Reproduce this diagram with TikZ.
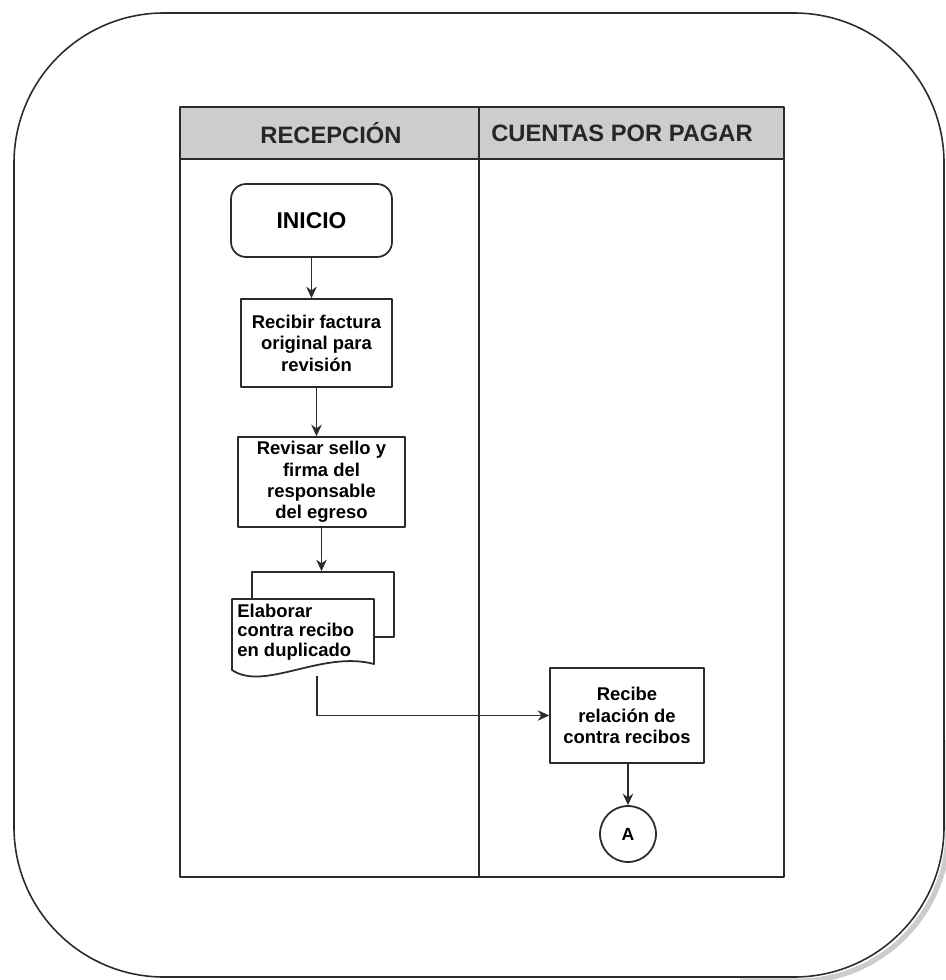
\documentclass[tikz,border=0pt]{standalone}
\usepackage{fontspec}
\setmainfont{Liberation Sans}
\usetikzlibrary{arrows.meta}
\definecolor{flowLine}{HTML}{2B2B2B}
\definecolor{flowHead}{HTML}{CDCDCD}

\begin{document}
\begin{tikzpicture}[x=0.02cm, y=-0.02cm, line join=round,
    caja/.style={draw=flowLine, line width=1pt, fill=white, align=center, inner sep=0pt,
        font=\fontsize{10.5}{12.2}\selectfont\bfseries},
    titulo/.style={font=\fontsize{13.5}{16}\selectfont\bfseries, text=black!85},
    flecha/.style={draw=flowLine, line width=0.9pt, -{Stealth[length=6.5pt, width=6pt]}}]
    \useasboundingbox (0,0) rectangle (946,980);
    \draw[black!20, line width=3pt, rounded corners=3cm] (948,740) -- (948,981) -- (740,981);
    \draw[flowLine, line width=0.9pt, rounded corners=3cm] (14,13) rectangle (944,977);
    \fill[flowHead] (180,107) rectangle (784,159);
    \draw[flowLine, line width=0.9pt] (180,107) rectangle (784,877);
    \draw[flowLine, line width=0.9pt] (180,159) -- (784,159);
    \draw[flowLine, line width=0.9pt] (479,107) -- (479,877);
    \node[titulo] (recepcion) at (331,133) {RECEPCIÓN};
    \node[titulo] (cuentas) at (622,133) {CUENTAS POR PAGAR};
    \node[caja, rounded corners=0.3cm, minimum width=3.22cm, minimum height=1.46cm,
        font=\fontsize{13}{15}\selectfont\bfseries] (inicio) at (311.5,220.5) {INICIO};
    \node[caja, minimum width=3.02cm, minimum height=1.76cm] (recibir) at (316.5,343)
        {Recibir factura\\original para\\revisión};
    \node[caja, minimum width=3.34cm, minimum height=1.8cm] (revisar) at (321.5,482)
        {Revisar sello y\\firma del\\responsable\\del egreso};
    \node[caja, minimum width=2.84cm, minimum height=1.3cm] (copia) at (323,604.5) {};
    \filldraw[fill=white, draw=flowLine, line width=1pt] (232,670) -- (232,599) -- (374,599)
        -- (374,664) .. controls (322,650) and (264,692) .. cycle;
    \node[anchor=west, align=left, inner sep=0pt, font=\fontsize{10.5}{11}\selectfont\bfseries]
        (elaborar) at (237,632) {Elaborar\\contra recibo\\en duplicado};
    \coordinate (salida) at (317,676);
    \node[caja, minimum width=3.08cm, minimum height=1.9cm] (recibe) at (627,715.5)
        {Recibe\\relación de\\contra recibos};
    \node[caja, circle, minimum size=1.12cm, font=\fontsize{10}{12}\selectfont\bfseries]
        (conA) at (628,834) {A};
    \draw[flecha] (inicio.south) -- (inicio.south |- recibir.north);
    \draw[flecha] (recibir.south) -- (recibir.south |- revisar.north);
    \draw[flecha] (revisar.south) -- (revisar.south |- copia.north);
    \draw[flecha] (salida) |- (recibe.west);
    \draw[flecha] (recibe.south) -- (recibe.south -| conA.north) -- (conA.north);
\end{tikzpicture}
\end{document}
